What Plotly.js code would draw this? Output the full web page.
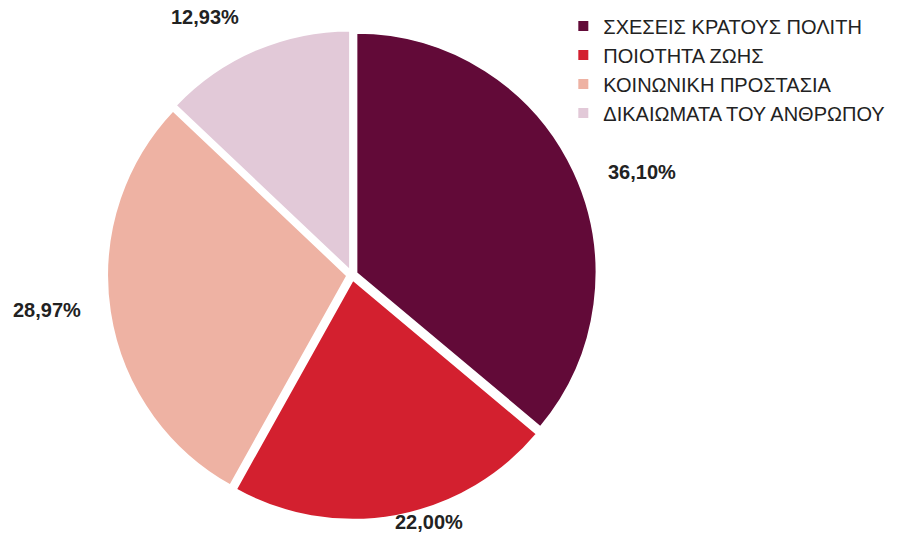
<!DOCTYPE html>
<html>
<head>
<meta charset="utf-8">
<script src="https://cdn.plot.ly/plotly-3.0.1.min.js"></script>
<style>html,body{margin:0;padding:0;background:#fff;}#chart{width:913px;height:536px;}</style>
</head>
<body>
<div id="chart"></div>
<script>
const categories = ["ΣΧΕΣΕΙΣ ΚΡΑΤΟΥΣ ΠΟΛΙΤΗ", "ΠΟΙΟΤΗΤΑ ΖΩΗΣ", "ΚΟΙΝΩΝΙΚΗ ΠΡΟΣΤΑΣΙΑ", "ΔΙΚΑΙΩΜΑΤΑ ΤΟΥ ΑΝΘΡΩΠΟΥ"];
const values = [36.10, 22.00, 28.97, 12.93];
const valueLabels = ["36,10%", "22,00%", "28,97%", "12,93%"];
const colors = ["#620a38", "#d3202f", "#eeb2a3", "#e2c9d8"];

// label placement (paper coords), one per slice
const labelPos = [[0.703, 0.679], [0.47, 0.026], [0.052, 0.421], [0.224, 0.968]];

const trace = {
  type: "pie",
  labels: categories,
  values: values,
  sort: false,
  direction: "clockwise",
  rotation: 0,
  pull: values.map(() => 0.02),
  marker: {colors: colors, line: {color: "#ffffff", width: 2}},
  textinfo: "none",
  hoverinfo: "label+percent",
  domain: {x: [0.1172, 0.6539], y: [0.030, 0.944]}
};

const annotations = valueLabels.map((t, i) => ({
  text: t, x: labelPos[i][0], y: labelPos[i][1], xref: "paper", yref: "paper",
  showarrow: false, xanchor: "center", yanchor: "middle",
  font: {family: "Liberation Sans, Arial, sans-serif", size: 20, color: "#222222", weight: "bold"}
}));

const layout = {
  width: 913, height: 536,
  margin: {l: 0, r: 0, t: 0, b: 0},
  paper_bgcolor: "#ffffff",
  showlegend: true,
  legend: {
    x: 0.617, y: 0.988, xanchor: "left", yanchor: "top",
    font: {family: "Liberation Sans, Arial, sans-serif", size: 20, color: "#222222"},
    bgcolor: "rgba(0,0,0,0)", itemwidth: 30
  },
  annotations: annotations
};

Plotly.newPlot("chart", [trace], layout, {displayModeBar: false, staticPlot: true});
</script>
</body>
</html>
